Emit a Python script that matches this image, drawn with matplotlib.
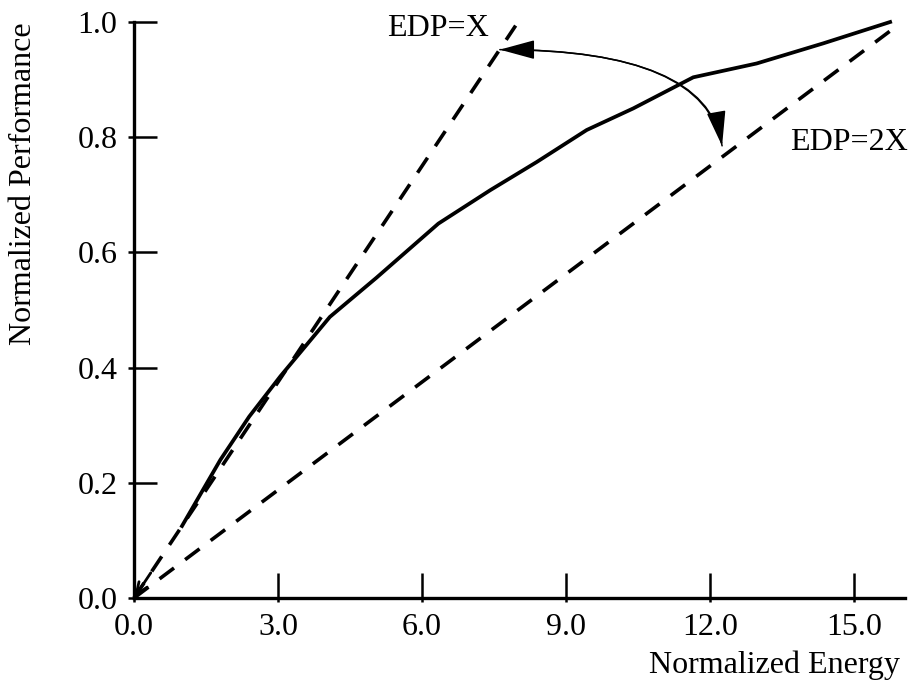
import matplotlib
matplotlib.use("Agg")
import matplotlib.pyplot as plt
from matplotlib.ticker import FixedLocator
import numpy as np

# ---------- DATA ----------
energy = [1.0, 1.8, 2.4, 3.05, 4.08, 5.05, 6.34, 7.42, 8.39, 9.43, 10.4, 11.65, 12.97, 14.36, 15.75]
performance = [0.125, 0.24, 0.315, 0.385, 0.488, 0.556, 0.65, 0.708, 0.757, 0.8125, 0.85, 0.904, 0.928, 0.963, 1.0]

edp_x_energy = [0.0, 7.95]       # EDP = X  (perf = energy / 8)
edp_2x_energy = [0.0, 15.75]     # EDP = 2X (perf = energy / 16)

xticks = [0.0, 3.0, 6.0, 9.0, 12.0, 15.0]
yticks = [0.0, 0.2, 0.4, 0.6, 0.8, 1.0]
# --------------------------

plt.rcParams["font.family"] = ["Liberation Serif", "DejaVu Serif"]
plt.rcParams["lines.scale_dashes"] = False
FS = 23

fig = plt.figure(figsize=(9.08, 6.83), dpi=100)
ax = fig.add_axes([134 / 908, 85 / 683, 771 / 908, 576 / 683])

dash = (0, (13, 10))
ax.plot(edp_x_energy, np.array(edp_x_energy) / 8.0, color="black", lw=2.6,
        linestyle=dash, clip_on=False)
ax.plot(edp_2x_energy, np.array(edp_2x_energy) / 16.0, color="black", lw=2.6,
        linestyle=dash, clip_on=False)
ax.plot(energy, performance, color="black", lw=2.7, clip_on=False,
        solid_joinstyle="miter")

# small open arrowhead at the origin
ax.annotate("", xy=(0, 0), xytext=(0.35, 0.35 / 8),
            arrowprops=dict(arrowstyle="->,head_length=0.9,head_width=0.35",
                            lw=2.0, color="black", shrinkA=0, shrinkB=0,
                            mutation_scale=10))

# curved double arrow between the two EDP lines
ax.annotate("", xy=(7.62, 0.952), xytext=(12.25, 0.785),
            arrowprops=dict(arrowstyle="-|>,head_length=2.2,head_width=0.6",
                            connectionstyle="angle3,angleA=100,angleB=0",
                            lw=1.1, color="black", shrinkA=0, shrinkB=0,
                            mutation_scale=10))
ax.annotate("", xy=(12.25, 0.785), xytext=(7.62, 0.952),
            arrowprops=dict(arrowstyle="-|>,head_length=2.2,head_width=0.6",
                            connectionstyle="angle3,angleA=0,angleB=100",
                            lw=1.1, color="black", shrinkA=0, shrinkB=0,
                            mutation_scale=10))

ax.text(5.27, 0.976, "EDP=X", fontsize=FS, va="baseline", ha="left")
ax.text(13.67, 0.778, "EDP=2X", fontsize=FS, va="baseline", ha="left")

ax.set_xlim(0, 16.06)
ax.set_ylim(0, 1.0)
ax.set_xticks(xticks)
ax.set_yticks(yticks)
ax.set_xticklabels([f"{v:.1f}" for v in xticks], fontsize=FS)
ax.set_yticklabels([f"{v:.1f}" for v in yticks], fontsize=FS)

# ticks mostly inside, with a short stub outside
ax.xaxis.set_minor_locator(FixedLocator(xticks))
ax.yaxis.set_minor_locator(FixedLocator(yticks))
ax.xaxis.remove_overlapping_locs = False
ax.yaxis.remove_overlapping_locs = False
ax.tick_params(axis="x", which="major", direction="in", length=18, width=1.8, pad=11)
ax.tick_params(axis="y", which="major", direction="in", length=16.5, width=1.8, pad=12)
ax.tick_params(axis="x", which="minor", direction="out", length=3, width=1.8)
ax.tick_params(axis="y", which="minor", direction="out", length=4.5, width=1.8)

for side in ["top", "right"]:
    ax.spines[side].set_visible(False)
for side in ["left", "bottom"]:
    ax.spines[side].set_linewidth(2.4)

ax.set_xlabel("Normalized Energy", fontsize=FS, loc="right")
ax.xaxis.set_label_coords((900 - 134) / 771, (598 - 650) / 576)
ax.set_ylabel("Normalized Performance", fontsize=FS, loc="top")
ax.yaxis.set_label_coords((38 - 134) / 771, 1.0)

fig.savefig("out.png", dpi=100)
